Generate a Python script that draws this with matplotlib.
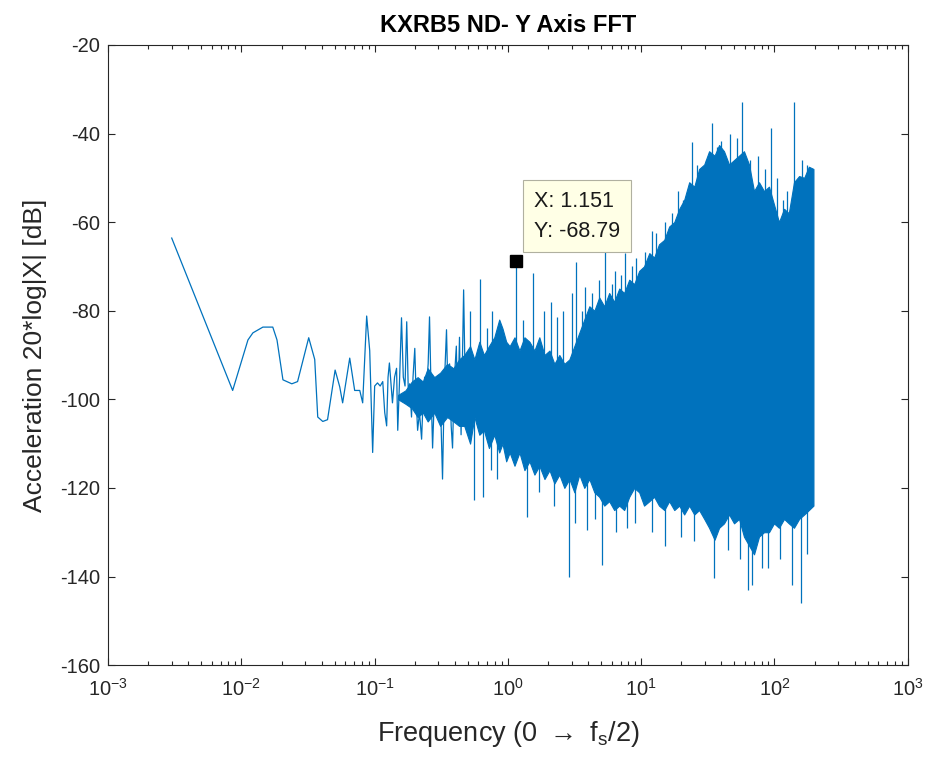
"""FFT magnitude plot, Y axis"""

import numpy as np
import matplotlib.pyplot as plt

# low frequency part, drawn as one line [Hz], [dB]
trace_freq = [0.0030, 0.0086, 0.0112, 0.0122, 0.0145, 0.0172, 0.0185, 0.0205, 0.0239, 0.0264,
              0.0320, 0.0355, 0.0374, 0.0408, 0.0443, 0.0505, 0.0547, 0.0575, 0.0650, 0.0708,
              0.0773, 0.0813, 0.0871, 0.0918, 0.0966, 0.100, 0.105, 0.110, 0.115, 0.119,
              0.123, 0.126, 0.129, 0.133, 0.136, 0.141, 0.146, 0.149, 0.154, 0.159,
              0.164, 0.169, 0.174, 0.179, 0.183, 0.189, 0.194, 0.200, 0.205, 0.210,
              0.217, 0.225, 0.231, 0.237, 0.245, 0.252, 0.258, 0.265, 0.272, 0.280,
              0.291, 0.300, 0.310, 0.323, 0.333, 0.346, 0.355, 0.365, 0.375, 0.384,
              0.395, 0.410, 0.420, 0.433, 0.445, 0.455, 0.465, 0.480]
trace_db = [-63.6, -98.0, -86.6, -85.0, -83.7, -83.7, -86.6, -95.6, -96.5, -96.0,
            -86.1, -91.0, -104.0, -105.0, -104.6, -93.4, -97.2, -100.8, -90.7, -98.0,
            -98.0, -100.8, -81.2, -89.0, -112.0, -97.0, -96.3, -97.0, -96.0, -103.0,
            -106.0, -95.0, -91.8, -97.0, -100.8, -95.0, -93.0, -107.0, -95.0, -81.6,
            -95.0, -97.0, -82.5, -99.0, -96.5, -104.0, -95.0, -88.5, -100.0, -107.0,
            -103.0, -109.0, -100.0, -95.0, -97.0, -92.0, -81.4, -98.0, -111.0, -100.0,
            -96.0, -103.0, -98.0, -118.0, -97.0, -84.3, -99.0, -92.0, -106.0, -111.0,
            -96.0, -88.0, -104.0, -86.0, -108.0, -92.0, -75.3, -100.0]

# dense part: upper and lower edge of the band
band_freq = [0.15, 0.17, 0.19, 0.21, 0.23, 0.25, 0.28, 0.31, 0.35, 0.39, 0.43,
             0.47, 0.52, 0.56, 0.61, 0.66, 0.72, 0.79, 0.86, 0.91, 0.97,
             1.03, 1.12, 1.22, 1.33, 1.45, 1.58, 1.72, 1.88, 2.05, 2.23,
             2.43, 2.65, 2.89, 3.15, 3.43, 3.74, 4.08, 4.45, 4.84, 5.28,
             5.75, 6.27, 6.84, 7.45, 8.13, 8.86, 9.66, 10.5, 11.5, 12.5,
             13.6, 14.9, 16.2, 17.7, 19.3, 21.0, 22.9, 25.0, 27.2, 29.7,
             32.3, 35.5, 38.4, 41.8, 45.6, 49.7, 54.2, 59.0, 64.4, 70.2,
             76.5, 83.4, 90.9, 99.1, 108, 118, 128, 140, 153, 167,
             181, 196]
band_top = [-99, -98, -96, -95, -96, -93, -95, -94, -92, -93, -91,
            -90, -88, -91, -87, -90, -88, -86, -82, -84, -87,
            -88, -86, -89, -86, -87, -89, -86, -90, -89, -92,
            -90, -92, -91, -88, -85, -82, -79, -80, -77, -79,
            -76, -78, -75, -76, -73, -74, -71, -70, -67, -68,
            -65, -64, -61, -60, -57, -55, -51, -52, -48, -47,
            -44, -45, -42.6, -44, -47, -46, -45, -44, -47, -53,
            -51, -53, -52, -56, -60, -57, -58, -51, -49.6, -50,
            -47.5, -48]
band_bot = [-100, -101, -102, -104, -103, -105, -103, -106, -104, -105, -106,
            -106, -110, -104, -108, -107, -111, -108, -112, -110, -114,
            -112, -115, -112, -116, -114, -117, -115, -118, -116, -119,
            -117, -120, -118, -121, -117, -120, -118, -121, -122, -124,
            -123, -125, -124, -125, -122, -120, -121, -124, -123, -122,
            -124, -125, -123, -125, -124, -126, -124, -126, -125, -127,
            -129, -131.7, -129, -128, -126, -128, -127, -131, -133, -135,
            -131, -130, -130, -128, -129, -127, -128, -129, -127, -126,
            -125, -124]

# isolated peaks above and below the band
up_freq = [0.52, 0.622, 0.70, 0.76, 1.151, 1.30, 1.53, 1.85, 2.1, 2.35,
           2.6, 3.0, 3.26, 3.6, 3.8, 4.3, 4.84, 5.37, 6.0, 6.4,
           7.0, 7.6, 8.5, 9.2, 10.7, 12.0, 13.0, 15.0, 17.0, 19.0,
           20.5, 24.0, 26.0, 30.7, 34.0, 37.0, 40.0, 46.0, 52.0, 57.0,
           65.0, 75.0, 85.0, 94.0, 105, 115, 125, 140, 160, 175]
up_db = [-80, -72.8, -84, -80, -68.79, -82, -71.5, -80, -78, -81.4,
         -80, -76, -69, -80, -74.6, -76, -73, -66.7, -74, -71,
         -72, -67, -70, -68, -66.7, -62, -62.4, -60, -58, -53,
         -55, -42, -47, -46, -37.6, -43, -41.7, -40, -41, -33,
         -46, -45, -48, -38.7, -50, -55, -53, -33, -46, -47]
down_freq = [0.56, 0.655, 0.75, 0.834, 1.38, 1.7, 2.2, 2.89, 3.2, 3.9,
             4.5, 5.1, 6.5, 7.8, 9.0, 12.0, 15.0, 20.0, 25.0, 35.2,
             45.0, 55.0, 63.0, 68.0, 80.0, 90.0, 110, 135, 157, 175]
down_db = [-122.7, -122, -116, -118, -126.5, -121, -124, -140, -128, -129.5,
           -127, -137.4, -130, -129, -128, -130, -133, -131, -132, -140.3,
           -134, -136, -143, -142, -138, -138, -136, -142, -146, -135]

tip_x, tip_y = 1.151, -68.79

blue = '#0072BD'
dark = '#262626'

plt.rcParams['font.family'] = ['Liberation Sans', 'DejaVu Sans']
plt.rcParams['mathtext.default'] = 'regular'
plt.rcParams['axes.unicode_minus'] = False

fig = plt.figure(figsize=(9.32, 7.61), dpi=100)
ax = fig.add_axes([0.116, 0.126, 0.858, 0.815])

ax.plot(trace_freq, trace_db, color=blue, lw=0.9)
ax.fill_between(band_freq, band_bot, band_top, color=blue, lw=0.8, edgecolor=blue)
ax.vlines(up_freq, -100, up_db, color=blue, lw=0.9)
ax.vlines(down_freq, down_db, -100, color=blue, lw=0.9)

# data tip
ax.plot(tip_x, tip_y, 's', color='k', ms=9)
ax.annotate('X: %.3f\nY: %.2f' % (tip_x, tip_y), xy=(tip_x, tip_y),
            xytext=(13, 14), textcoords='offset points', ha='left', va='bottom',
            fontsize=15.5, linespacing=1.55, color='#1a1a1a',
            bbox=dict(boxstyle='square,pad=0.5', fc='#FFFFE6', ec='#b0b0a0', lw=0.8))

ax.set_xscale('log')
ax.set_xlim(1e-3, 1e3)
ax.set_ylim(-160, -20)
ax.set_yticks(np.arange(-160, -19, 20))

ax.set_title('KXRB5 ND- Y Axis FFT', fontsize=17, fontweight='bold', color='k', pad=9)
ax.set_xlabel(r'Frequency (0 $\rightarrow$ f$_s$/2)', fontsize=19.5, color=dark, labelpad=14)
ax.set_ylabel('Acceleration 20*log|X| [dB]', fontsize=19, color=dark, labelpad=9)

ax.tick_params(which='both', direction='in', top=True, right=True, colors=dark,
               labelsize=14.5, width=0.8)
ax.tick_params(which='major', length=5)
ax.tick_params(which='minor', length=3)
ax.tick_params(axis='x', pad=9)
ax.tick_params(axis='y', pad=6)
for s in ax.spines.values():
    s.set_color(dark)
    s.set_linewidth(0.8)

fig.savefig('out.png', dpi=100)
